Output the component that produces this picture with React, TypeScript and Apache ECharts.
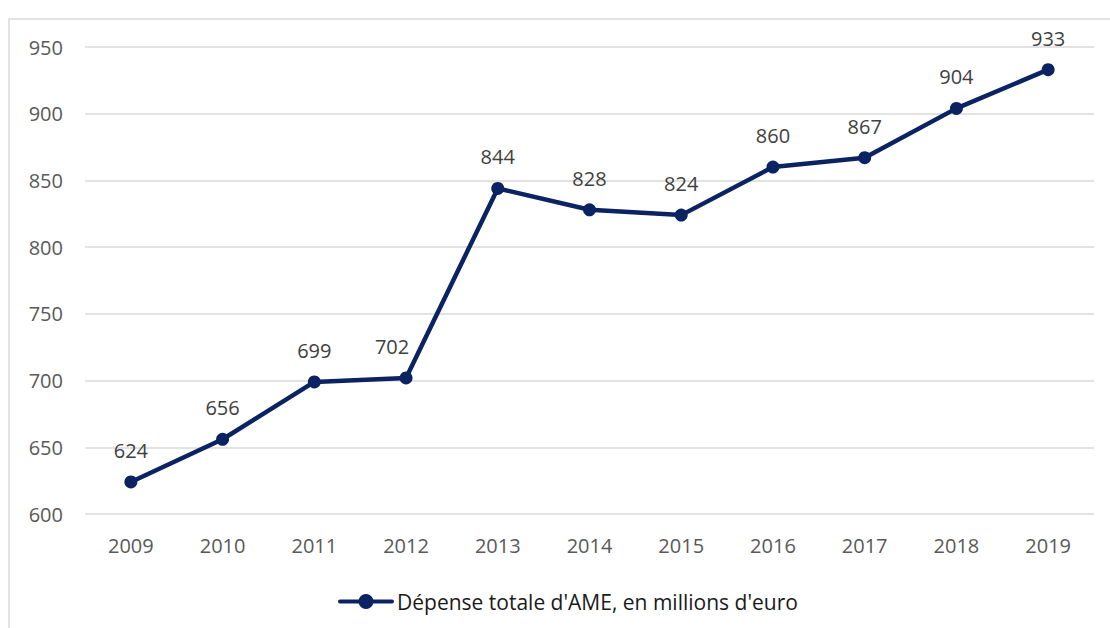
import React, { useEffect, useRef } from "react";
import * as echarts from "echarts";

const years = ["2009", "2010", "2011", "2012", "2013", "2014", "2015", "2016", "2017", "2018", "2019"];
const spending = [624, 656, 699, 702, 844, 828, 824, 860, 867, 904, 933];
const seriesName = "Dépense totale d'AME, en millions d'euro";

export default function App() {
  const ref = useRef<HTMLDivElement>(null);
  useEffect(() => {
    if (!ref.current) return;
    const chart = echarts.init(ref.current, null, { renderer: "svg" });
    const font = "'Open Sans', 'Noto Sans', sans-serif";
    const navy = "#0b2263";
    const data = spending.map((v, i) =>
      years[i] === "2012" ? { value: v, label: { offset: [-14, 0] } } : v
    );
    chart.setOption({
      animation: false,
      backgroundColor: "#ffffff",
      textStyle: { fontFamily: font },
      graphic: [
        {
          type: "rect",
          shape: { x: 9, y: 19, width: 1200, height: 700 },
          style: { fill: "none", stroke: "#d9d9d9", lineWidth: 1.5 },
          silent: true,
        },
      ],
      grid: { left: 85, right: 16, top: 47, bottom: 114 },
      legend: {
        top: 586,
        left: 333,
        itemWidth: 56,
        itemHeight: 16,
        itemGap: 4,
        textStyle: { fontSize: 21, color: "#1a1a1a", fontFamily: font, padding: [0, 0, 0, -2] },
        data: [
          {
            name: seriesName,
            icon: "path://M2,6 L54,6 A2,2 0 0,1 54,10 L2,10 A2,2 0 0,1 2,6 Z M28,0.5 A7.5,7.5 0 1,1 27.99,0.5 Z",
          },
        ],
      },
      xAxis: {
        type: "category",
        data: years,
        boundaryGap: true,
        axisLine: { show: false },
        axisTick: { show: false },
        axisLabel: { fontSize: 20, color: "#595959", margin: 21, fontFamily: font },
      },
      yAxis: {
        type: "value",
        min: 600,
        max: 950,
        interval: 50,
        axisLine: { show: false },
        axisTick: { show: false },
        axisLabel: { fontSize: 20, color: "#595959", margin: 22, fontFamily: font },
        splitLine: { lineStyle: { color: "#d9d9d9", width: 1.5 } },
      },
      series: [
        {
          name: seriesName,
          type: "line",
          data,
          symbol: "circle",
          symbolSize: 13,
          lineStyle: { color: navy, width: 4.5 },
          itemStyle: { color: navy },
          label: {
            show: true,
            position: "top",
            distance: 15,
            fontSize: 20,
            color: "#404040",
            fontFamily: font,
          },
        },
      ],
    });
    return () => chart.dispose();
  }, []);
  return (
    <div
      ref={ref}
      style={{ position: "fixed", left: 0, top: 0, width: 1110, height: 628 }}
    />
  );
}
